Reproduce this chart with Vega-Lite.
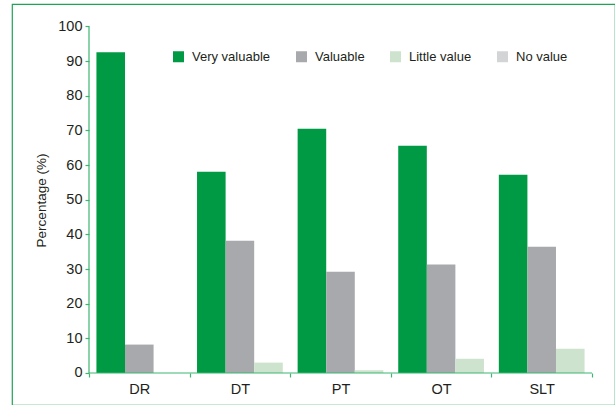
{
  "$schema": "https://vega.github.io/schema/vega-lite/v6.json",
  "autosize": "none",
  "padding": {"left": 12, "top": 4, "right": 0, "bottom": 0},
  "width": 603,
  "height": 401,
  "background": "white",
  "config": {
    "view": {"stroke": "#1fa456", "strokeWidth": 1.2},
    "font": "Liberation Sans, Arial, sans-serif"
  },
  "datasets": {
    "bars": [
      {"profession": "DR", "rating": "Very valuable", "pct": 92.6},
      {"profession": "DR", "rating": "Valuable", "pct": 8.2},
      {"profession": "DT", "rating": "Very valuable", "pct": 58.1},
      {"profession": "DT", "rating": "Valuable", "pct": 38.2},
      {"profession": "DT", "rating": "Little value", "pct": 3.0},
      {"profession": "PT", "rating": "Very valuable", "pct": 70.5},
      {"profession": "PT", "rating": "Valuable", "pct": 29.2},
      {"profession": "PT", "rating": "Little value", "pct": 0.8},
      {"profession": "OT", "rating": "Very valuable", "pct": 65.6},
      {"profession": "OT", "rating": "Valuable", "pct": 31.3},
      {"profession": "OT", "rating": "Little value", "pct": 4.1},
      {"profession": "SLT", "rating": "Very valuable", "pct": 57.2},
      {"profession": "SLT", "rating": "Valuable", "pct": 36.4},
      {"profession": "SLT", "rating": "Little value", "pct": 7.0}
    ],
    "axisline": [{"a": 0}]
  },
  "layer": [
    {
      "data": {"name": "bars"},
      "mark": {"type": "bar"},
      "encoding": {
        "x": {
          "field": "profession",
          "type": "nominal",
          "sort": ["DR", "DT", "PT", "OT", "SLT"],
          "scale": {"paddingInner": 0, "paddingOuter": 0.497, "align": 0.77},
          "axis": {
            "title": null,
            "offset": -32,
            "domain": false,
            "tickBand": "extent",
            "tickColor": "#3db573",
            "tickWidth": 1.2,
            "tickSize": 4,
            "labelAngle": 0,
            "labelFontSize": 14.5,
            "labelColor": "#231f20",
            "labelPadding": 5
          }
        },
        "xOffset": {
          "field": "rating",
          "type": "nominal",
          "sort": ["Very valuable", "Valuable", "Little value"],
          "scale": {"domain": ["Very valuable", "Valuable", "Little value"], "paddingInner": 0, "paddingOuter": 0.26}
        },
        "y": {
          "field": "pct",
          "type": "quantitative",
          "stack": null,
          "scale": {"domain": [-9.235, 106.49], "nice": false, "zero": false},
          "axis": {
            "title": "Percentage (%)",
            "titleFontSize": 13.5,
            "titleFontWeight": "normal",
            "titleColor": "#231f20",
            "titlePadding": 9,
            "titleY": 196,
            "offset": -77,
            "domain": false,
            "grid": false,
            "values": [0, 10, 20, 30, 40, 50, 60, 70, 80, 90, 100],
            "tickColor": "#3db573",
            "tickWidth": 1.2,
            "tickSize": 4,
            "labelFontSize": 14.5,
            "labelColor": "#231f20",
            "labelPadding": 3
          }
        },
        "y2": {"datum": 0},
        "color": {
          "field": "rating",
          "type": "nominal",
          "scale": {
            "domain": ["Very valuable", "Valuable", "Little value", "No value"],
            "range": ["#009a44", "#a8a9ad", "#cee3cd", "#d3d4d6"]
          },
          "legend": {
            "title": null,
            "orient": "none",
            "direction": "horizontal",
            "legendX": 160,
            "legendY": 46,
            "symbolType": "square",
            "symbolSize": 121,
            "symbolStrokeWidth": 0,
            "labelFontSize": 13,
            "labelColor": "#231f20",
            "labelOffset": 7,
            "columnPadding": 24
          }
        }
      }
    },
    {
      "data": {"name": "axisline"},
      "mark": {"type": "rule", "color": "#3db573", "strokeWidth": 1.2},
      "encoding": {
        "x": {"datum": "DR", "type": "nominal", "bandPosition": 0},
        "y": {"datum": 0, "type": "quantitative"},
        "y2": {"datum": 100}
      }
    },
    {
      "data": {"name": "axisline"},
      "mark": {"type": "rule", "color": "#3db573", "strokeWidth": 1.2},
      "encoding": {
        "x": {"datum": "DR", "type": "nominal", "bandPosition": 0},
        "x2": {"datum": "SLT", "bandPosition": 1},
        "y": {"datum": 0, "type": "quantitative"}
      }
    }
  ]
}
